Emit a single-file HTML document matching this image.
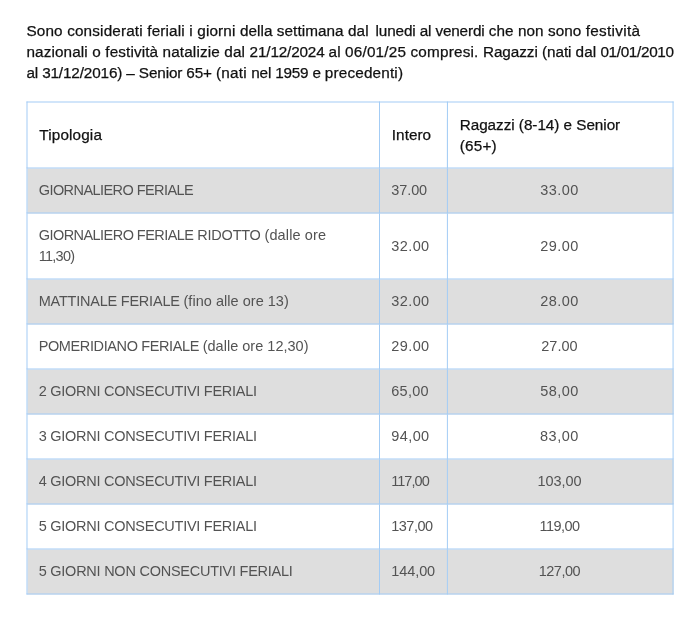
<!DOCTYPE html>
<html lang="it">
<head>
<meta charset="utf-8">
<title>Tariffe feriali</title>
<style>
html,body{margin:0;padding:0;background:#fff;}
body{width:700px;height:627px;overflow:hidden;position:relative;font-family:"Liberation Sans",sans-serif;font-size:14.5px;line-height:21px;color:#111;}
p.intro{position:absolute;left:26.4px;top:19.7px;margin:0;white-space:nowrap;color:#111;font-size:15.3px;transform:translate(0.4px,0.4px) rotate(0.001deg);transform-origin:0 0;}
p.intro .ln{display:block;height:21px;}
p.intro,th{-webkit-text-stroke:0.25px #111;}
table{position:absolute;left:26px;top:101px;width:648px;border-collapse:collapse;table-layout:fixed;border:1px solid #a3ccf5;transform:translate(0.5px,0.45px) scaleX(0.9986) rotate(0.001deg);transform-origin:0 0;}
col.c1{width:353px}col.c2{width:68px}col.c3{width:226px}
th,td{border:1px solid #a3ccf5;padding:0 0 0 12px;text-align:left;vertical-align:middle;font-weight:normal;box-sizing:border-box;white-space:nowrap;}
th{height:66px;color:#111;font-size:15.3px;}
td{height:45px;color:#535353;}
th .w,td .w{position:relative;top:0.8px;left:-0.8px;}
th .w{left:-0.2px;top:0.1px;}
tr.tall td{height:66px;}
tr.g td{background-color:#dedede;}
td.c{text-align:center;padding:0;}
.w{white-space:pre;}
</style>
</head>
<body>
<p class="intro"><span class="ln"><span class="w" id="l1_0" style="letter-spacing:0.155px">Sono considerati feriali i giorni </span><span class="w" id="l1_1" style="letter-spacing:0.047px">della settimana </span><span class="w" id="l1_2" style="letter-spacing:0.200px;margin-right:2.23px">dal </span><span class="w" id="l1_3" style="letter-spacing:-0.142px">lunedi al venerdi </span><span class="w" id="l1_4" style="letter-spacing:0.069px">che </span><span class="w" id="l1_5" style="letter-spacing:0.066px">non sono </span><span class="w" id="l1_6" style="letter-spacing:0.305px">festività</span></span><span class="ln"><span class="w" id="l2_0" style="letter-spacing:0.123px">nazionali o festività natalizie </span><span class="w" id="l2_1" style="letter-spacing:0.182px">dal </span><span class="w" id="l2_2" style="letter-spacing:-0.165px">21/12/2024 </span><span class="w" id="l2_3" style="letter-spacing:0.114px">al </span><span class="w" id="l2_4" style="letter-spacing:0.181px">06/01/25 compresi. </span><span class="w" id="l2_5" style="letter-spacing:-0.059px">Ragazzi (nati </span><span class="w" id="l2_6" style="letter-spacing:0.032px">dal </span><span class="w" id="l2_7" style="letter-spacing:-0.329px">01/01/2010</span></span><span class="ln"><span class="w" id="l3_0" style="letter-spacing:-0.139px">al 31/12/2016) – Senior 65+ </span><span class="w" id="l3_1" style="letter-spacing:0.214px">(nati </span><span class="w" id="l3_2" style="letter-spacing:-0.200px">nel 1959 e </span><span class="w" id="l3_3" style="letter-spacing:0.167px">precedenti)</span></span></p>
<table>
<colgroup><col class="c1"><col class="c2"><col class="c3"></colgroup>
<thead>
<tr><th><span class="w" id="h1_0" style="letter-spacing:0.146px">Tipologia</span></th><th><span class="w" id="h2_0" style="letter-spacing:0.046px">Intero</span></th><th><span class="w" id="h3a_0" style="letter-spacing:-0.037px">Ragazzi (8-14) e Senior</span><br><span class="w" id="h3b_0" style="letter-spacing:0.227px">(65+)</span></th></tr>
</thead>
<tbody>
<tr class="g"><td><span class="w" id="r1_0" style="letter-spacing:-0.548px">GIORNALIERO FERIALE</span></td><td><span class="w" id="a1_0" style="letter-spacing:-0.062px">37.00</span></td><td class="c"><span class="w" id="b1_0" style="letter-spacing:0.438px">33.00</span></td></tr>
<tr class="tall"><td><span class="w" id="r2a_0" style="letter-spacing:-0.535px">GIORNALIERO FERIALE</span><span class="w" id="r2a_1" style="letter-spacing:-0.216px"> RIDOTTO </span><span class="w" id="r2a_2" style="letter-spacing:0.126px">(dalle ore</span><br><span class="w" id="r2b_0" style="letter-spacing:-0.718px">11,30)</span></td><td><span class="w" id="a2_0" style="letter-spacing:0.438px">32.00</span></td><td class="c"><span class="w" id="b2_0" style="letter-spacing:0.438px">29.00</span></td></tr>
<tr class="g"><td><span class="w" id="r3_0" style="letter-spacing:-0.210px">MATTINALE FERIALE </span><span class="w" id="r3_1" style="letter-spacing:0.039px">(fino alle ore 13)</span></td><td><span class="w" id="a3_0" style="letter-spacing:0.438px">32.00</span></td><td class="c"><span class="w" id="b3_0" style="letter-spacing:0.438px">28.00</span></td></tr>
<tr><td><span class="w" id="r4_0" style="letter-spacing:-0.369px">POMERIDIANO FERIALE </span><span class="w" id="r4_1" style="letter-spacing:0.022px">(dalle ore 12,30)</span></td><td><span class="w" id="a4_0" style="letter-spacing:0.438px">29.00</span></td><td class="c"><span class="w" id="b4_0" style="letter-spacing:0.063px">27.00</span></td></tr>
<tr class="g"><td><span class="w" id="r5_0" style="letter-spacing:-0.258px">2 GIORNI CONSECUTIVI FERIALI</span></td><td><span class="w" id="a5_0" style="letter-spacing:0.313px">65,00</span></td><td class="c"><span class="w" id="b5_0" style="letter-spacing:0.438px">58,00</span></td></tr>
<tr><td><span class="w" id="r6_0" style="letter-spacing:-0.258px">3 GIORNI CONSECUTIVI FERIALI</span></td><td><span class="w" id="a6_0" style="letter-spacing:0.438px">94,00</span></td><td class="c"><span class="w" id="b6_0" style="letter-spacing:0.563px">83,00</span></td></tr>
<tr class="g"><td><span class="w" id="r7_0" style="letter-spacing:-0.258px">4 GIORNI CONSECUTIVI FERIALI</span></td><td><span class="w" id="a7_0" style="letter-spacing:-0.944px">117,00</span></td><td class="c"><span class="w" id="b7_0" style="letter-spacing:-0.060px">103,00</span></td></tr>
<tr><td><span class="w" id="r8_0" style="letter-spacing:-0.258px">5 GIORNI CONSECUTIVI FERIALI</span></td><td><span class="w" id="a8_0" style="letter-spacing:-0.460px">137,00</span></td><td class="c"><span class="w" id="b8_0" style="letter-spacing:-0.544px">119,00</span></td></tr>
<tr class="g"><td><span class="w" id="r9_0" style="letter-spacing:-0.235px">5 GIORNI NON CONSECUTIVI FERIALI</span></td><td><span class="w" id="a9_0" style="letter-spacing:-0.060px">144,00</span></td><td class="c"><span class="w" id="b9_0" style="letter-spacing:-0.460px">127,00</span></td></tr>
</tbody>
</table>
</body>
</html>
